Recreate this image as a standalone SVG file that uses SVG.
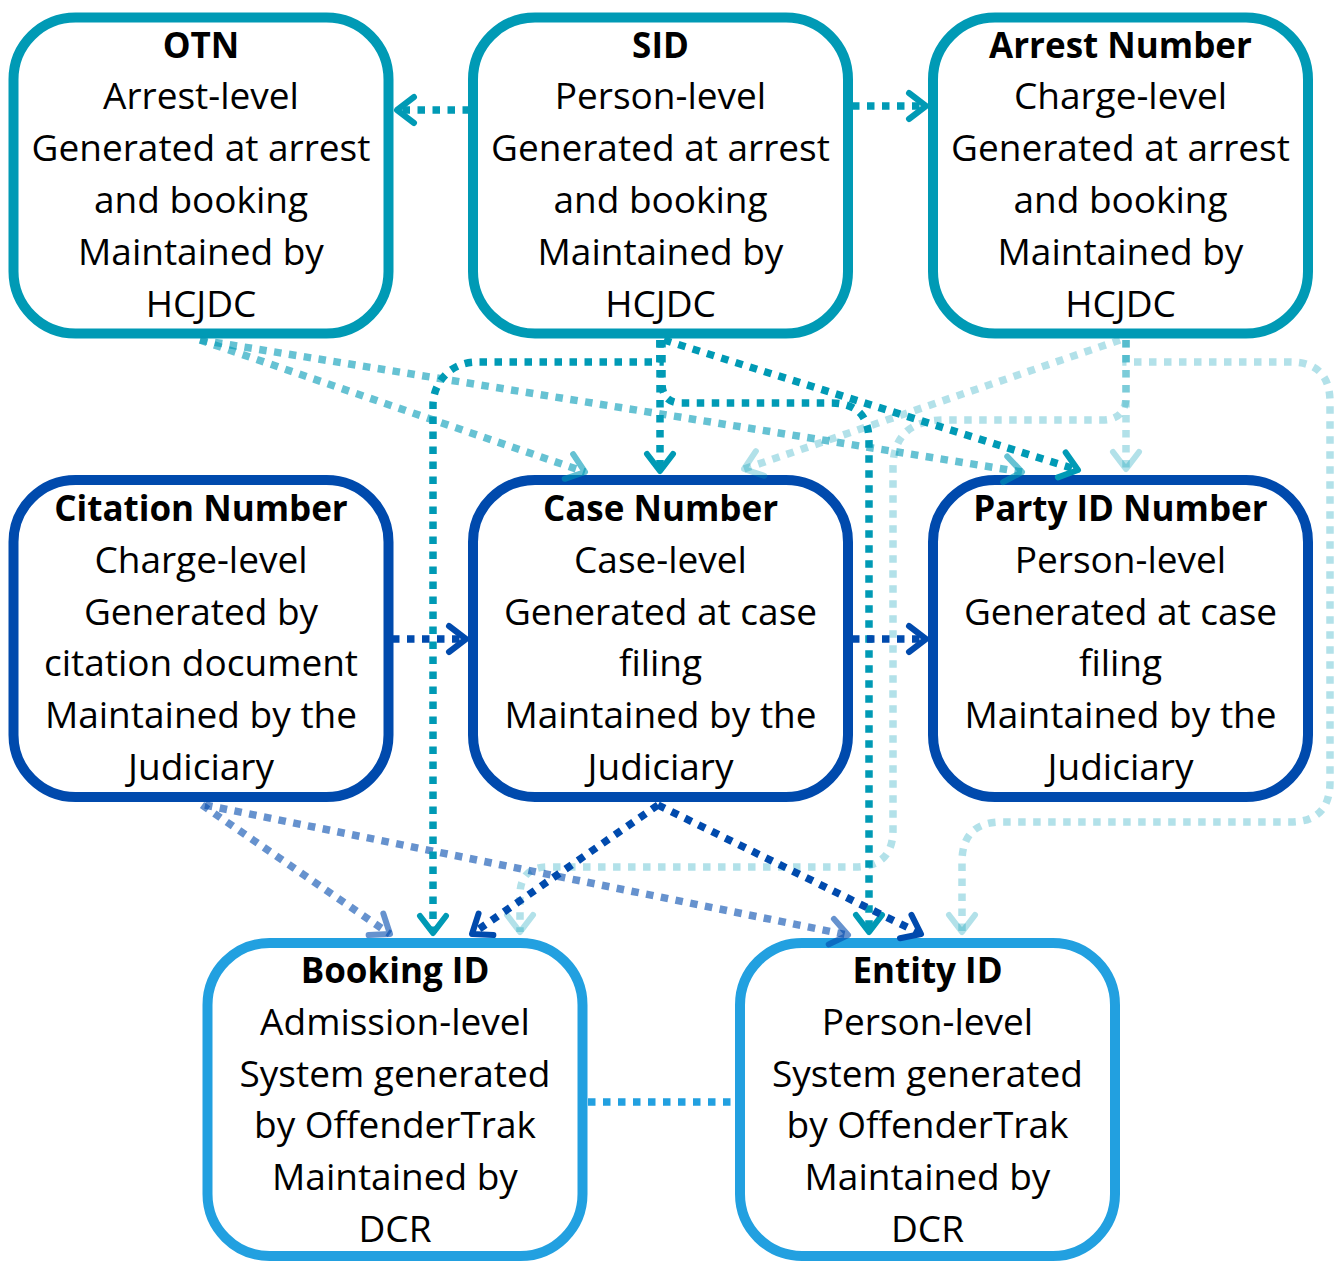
<svg xmlns="http://www.w3.org/2000/svg" width="1337" height="1261" viewBox="0 0 1337 1261">
<defs>
<style>
.box{fill:#fff;stroke-width:10}
.top{stroke:#009AB5}
.mid{stroke:#004AAD}
.bot{stroke:#22A0E0}
text{font-family:"Open Sans","Noto Sans","Liberation Sans",sans-serif;font-size:37px;fill:#000;text-anchor:middle}
.t{font-weight:bold;font-size:35px}
.c{fill:none;stroke-width:7.5;stroke-dasharray:7.5 7.5}
.cT{stroke:#009AB5}
.cT6{stroke:#009AB5;stroke-opacity:0.6}
.cT3{stroke:#009AB5;stroke-opacity:0.3}
.cB{stroke:#004AAD}
.cB6{stroke:#004AAD;stroke-opacity:0.6}
.cL{stroke:#22A0E0}
.ah{fill:none;stroke-width:6;stroke-linecap:round;stroke-linejoin:round}
</style>
<marker id="mT" markerUnits="userSpaceOnUse" orient="auto" overflow="visible" markerWidth="1" markerHeight="1"><path class="ah" d="M-17,-13 L0,0 L-17,13" stroke="#009AB5"/></marker>
<marker id="mT6" markerUnits="userSpaceOnUse" orient="auto" overflow="visible" markerWidth="1" markerHeight="1"><path class="ah" d="M-17,-13 L0,0 L-17,13" stroke="#009AB5" stroke-opacity="0.6"/></marker>
<marker id="mT3" markerUnits="userSpaceOnUse" orient="auto" overflow="visible" markerWidth="1" markerHeight="1"><path class="ah" d="M-17,-13 L0,0 L-17,13" stroke="#009AB5" stroke-opacity="0.3"/></marker>
<marker id="mB" markerUnits="userSpaceOnUse" orient="auto" overflow="visible" markerWidth="1" markerHeight="1"><path class="ah" d="M-17,-13 L0,0 L-17,13" stroke="#004AAD"/></marker>
<marker id="mB6" markerUnits="userSpaceOnUse" orient="auto" overflow="visible" markerWidth="1" markerHeight="1"><path class="ah" d="M-17,-13 L0,0 L-17,13" stroke="#004AAD" stroke-opacity="0.6"/></marker>
</defs>
<rect width="1337" height="1261" fill="#fff"/>

<g id="otn"><rect class="box top" x="13.5" y="17.5" width="375" height="316" rx="62"/>
<text x="201" y="57.5"><tspan class="t">OTN</tspan><tspan x="201" dy="51.8">Arrest-level</tspan><tspan x="201" dy="51.8">Generated at arrest</tspan><tspan x="201" dy="51.8">and booking</tspan><tspan x="201" dy="51.8">Maintained by</tspan><tspan x="201" dy="51.8">HCJDC</tspan></text></g>

<g id="sid"><rect class="box top" x="473" y="17.5" width="375" height="316" rx="62"/>
<text x="660.5" y="57.5"><tspan class="t">SID</tspan><tspan x="660.5" dy="51.8">Person-level</tspan><tspan x="660.5" dy="51.8">Generated at arrest</tspan><tspan x="660.5" dy="51.8">and booking</tspan><tspan x="660.5" dy="51.8">Maintained by</tspan><tspan x="660.5" dy="51.8">HCJDC</tspan></text></g>

<g id="arrest"><rect class="box top" x="933" y="17.5" width="375" height="316" rx="62"/>
<text x="1120.5" y="57.5"><tspan class="t">Arrest Number</tspan><tspan x="1120.5" dy="51.8">Charge-level</tspan><tspan x="1120.5" dy="51.8">Generated at arrest</tspan><tspan x="1120.5" dy="51.8">and booking</tspan><tspan x="1120.5" dy="51.8">Maintained by</tspan><tspan x="1120.5" dy="51.8">HCJDC</tspan></text></g>

<g id="citation"><rect class="box mid" x="13.5" y="480" width="375" height="317" rx="62"/>
<text x="201" y="521"><tspan class="t">Citation Number</tspan><tspan x="201" dy="51.8">Charge-level</tspan><tspan x="201" dy="51.8">Generated by</tspan><tspan x="201" dy="51.8">citation document</tspan><tspan x="201" dy="51.8">Maintained by the</tspan><tspan x="201" dy="51.8">Judiciary</tspan></text></g>

<g id="case"><rect class="box mid" x="473" y="480" width="375" height="317" rx="62"/>
<text x="660.5" y="521"><tspan class="t">Case Number</tspan><tspan x="660.5" dy="51.8">Case-level</tspan><tspan x="660.5" dy="51.8">Generated at case</tspan><tspan x="660.5" dy="51.8">filing</tspan><tspan x="660.5" dy="51.8">Maintained by the</tspan><tspan x="660.5" dy="51.8">Judiciary</tspan></text></g>

<g id="party"><rect class="box mid" x="933" y="480" width="375" height="317" rx="62"/>
<text x="1120.5" y="521"><tspan class="t">Party ID Number</tspan><tspan x="1120.5" dy="51.8">Person-level</tspan><tspan x="1120.5" dy="51.8">Generated at case</tspan><tspan x="1120.5" dy="51.8">filing</tspan><tspan x="1120.5" dy="51.8">Maintained by the</tspan><tspan x="1120.5" dy="51.8">Judiciary</tspan></text></g>

<g id="booking"><rect class="box bot" x="207.5" y="943" width="375" height="313" rx="62"/>
<text x="395" y="983"><tspan class="t">Booking ID</tspan><tspan x="395" dy="51.8">Admission-level</tspan><tspan x="395" dy="51.8">System generated</tspan><tspan x="395" dy="51.8">by OffenderTrak</tspan><tspan x="395" dy="51.8">Maintained by</tspan><tspan x="395" dy="51.8">DCR</tspan></text></g>

<g id="entity"><rect class="box bot" x="740" y="943" width="375" height="313" rx="62"/>
<text x="927.5" y="983"><tspan class="t">Entity ID</tspan><tspan x="927.5" dy="51.8">Person-level</tspan><tspan x="927.5" dy="51.8">System generated</tspan><tspan x="927.5" dy="51.8">by OffenderTrak</tspan><tspan x="927.5" dy="51.8">Maintained by</tspan><tspan x="927.5" dy="51.8">DCR</tspan></text></g>

<g id="connectors">
<path class="c cT3" marker-end="url(#mT3)" d="M1120,340 L744,469"/>
<path class="c cT3" marker-end="url(#mT3)" d="M1126,340 V469"/>
<path class="c cT3" marker-end="url(#mT3)" d="M1126,340 V362 H1290 Q1330,362 1330,402 V782 Q1330,822 1290,822 H1002 Q962,822 962,862 V932"/>
<path class="c cT3" marker-end="url(#mT3)" d="M1126,340 V396 Q1126,420 1102,420 H945 Q893,420 893,468 V830 Q893,867 855,867 H548 Q520,867 520,895 V932"/>
<path class="c cT6" marker-end="url(#mT6)" d="M200,340 L585,472"/>
<path class="c cT6" marker-end="url(#mT6)" d="M200,340 L1022,472"/>
<path class="c cB6" marker-end="url(#mB6)" d="M202,805 L390,934"/>
<path class="c cB6" marker-end="url(#mB6)" d="M205,805 L848,935"/>
<path class="c cT" marker-end="url(#mT)" d="M470,110 L397,110"/>
<path class="c cT" marker-end="url(#mT)" d="M852,106 L926,106"/>
<path class="c cT" marker-end="url(#mT)" d="M660,340 V471"/>
<path class="c cT" marker-end="url(#mT)" d="M664,340 L1078,470"/>
<path class="c cT" marker-end="url(#mT)" d="M660,340 V362 H476 A43,43 0 0 0 433,405 V933"/>
<path class="c cT" marker-end="url(#mT)" d="M662,340 V383 Q662,403 682,403 H831 Q869,403 869,441 V932"/>
<path class="c cB" marker-end="url(#mB)" d="M392,639 L466,639"/>
<path class="c cB" marker-end="url(#mB)" d="M852,639 L926,639"/>
<path class="c cB" marker-end="url(#mB)" d="M658,805 L472,934"/>
<path class="c cB" marker-end="url(#mB)" d="M658,805 L921,934"/>
<path class="c cL" d="M588,1102 L735,1102"/>
</g>
</svg>
